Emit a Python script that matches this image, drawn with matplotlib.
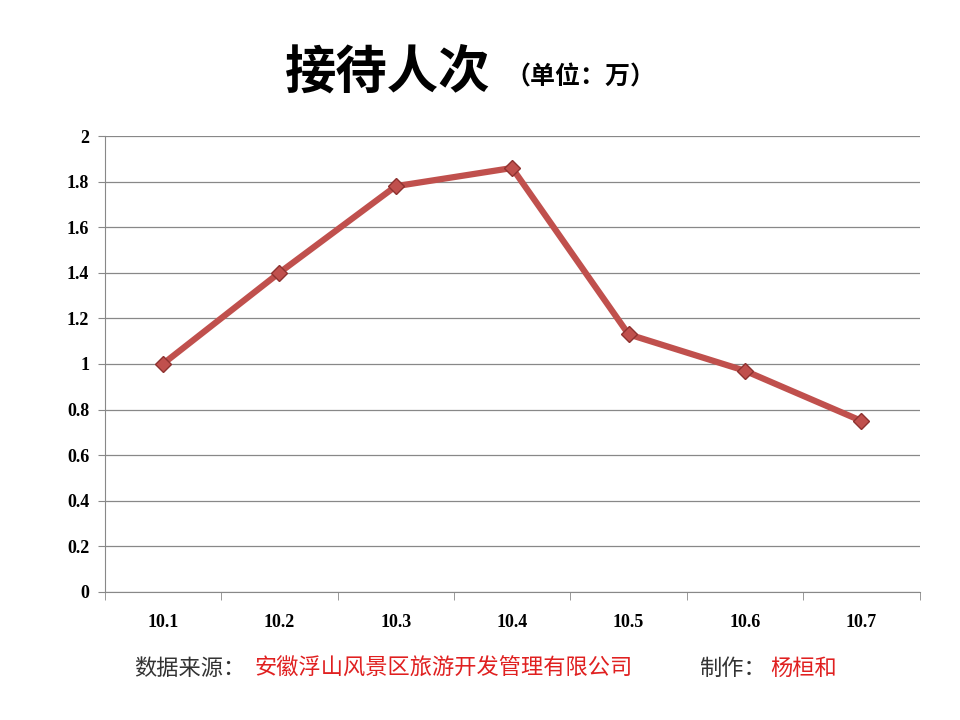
import matplotlib
matplotlib.use("Agg")
import matplotlib.pyplot as plt

categories = ["10.1", "10.2", "10.3", "10.4", "10.5", "10.6", "10.7"]
values = [1.0, 1.4, 1.78, 1.86, 1.13, 0.97, 0.75]
yticks = [0, 0.2, 0.4, 0.6, 0.8, 1, 1.2, 1.4, 1.6, 1.8, 2]
ylabels = ["0", "0.2", "0.4", "0.6", "0.8", "1", "1.2", "1.4", "1.6", "1.8", "2"]

cjk = "Noto Sans CJK SC"
serif = "Liberation Serif"

fig = plt.figure(figsize=(9.6, 7.2), dpi=100)
ax = fig.add_axes([0.109, 0.178, 0.849, 0.633])
x = list(range(len(categories)))
ax.plot(x, values, color="#C0504D", lw=4.5, marker="D", markersize=8,
        markerfacecolor="#C0504D", markeredgecolor="#8E3230", markeredgewidth=1, zorder=3)
ax.set_xlim(-0.5, len(categories) - 0.5)
ax.set_ylim(0, 2)
ax.set_yticks(yticks)
ax.set_yticklabels(ylabels, fontfamily=serif, fontweight="bold", fontsize=13)
ax.set_xticks(x)
ax.set_xticklabels(categories, fontfamily=serif, fontweight="bold", fontsize=13)
ax.set_xticks([i - 0.5 for i in range(len(categories) + 1)], minor=True)
ax.tick_params(axis="x", which="major", length=0, pad=16)
ax.tick_params(axis="x", which="minor", length=6, color="#888888")
ax.tick_params(axis="y", length=5, color="#888888", pad=6)
ax.grid(axis="y", color="#888888", lw=0.9)
ax.set_axisbelow(True)
for s in ["top", "right"]:
    ax.spines[s].set_visible(False)
ax.spines["left"].set_color("#888888")
ax.spines["bottom"].set_color("#888888")

fig.text(0.297, 0.9, "接待人次", fontfamily=cjk, fontweight="bold", fontsize=37,
         ha="left", va="center")
fig.text(0.527, 0.893, "（单位：万）", fontfamily=cjk, fontweight="bold", fontsize=18,
         ha="left", va="center")

y = 0.072
fig.text(0.14, y, "数据来源：", fontfamily=cjk, fontsize=16, color="#333333", va="center")
fig.text(0.265, y, "安徽浮山风景区旅游开发管理有限公司", fontfamily=cjk, fontsize=16,
         color="#E02020", va="center")
fig.text(0.728, y, "制作：", fontfamily=cjk, fontsize=16, color="#333333", va="center")
fig.text(0.802, y, "杨桓和", fontfamily=cjk, fontsize=16, color="#E02020", va="center")

fig.savefig("out.png", dpi=100, facecolor="white")
